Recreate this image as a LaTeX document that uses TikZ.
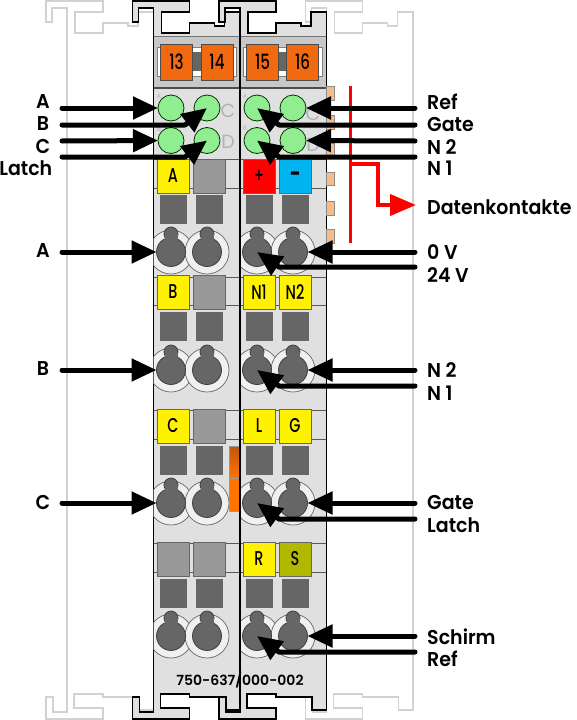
\documentclass[tikz,border=0pt]{standalone}
\usepackage{fontspec}
\setmainfont[BoldFont={Poppins SemiBold}]{Poppins}
\newfontfamily\narrowfont[FakeStretch=0.72]{Poppins Medium}
\newfontfamily\labelfont[FakeStretch=0.95]{Poppins SemiBold}
\usetikzlibrary{arrows.meta}

\definecolor{bodygrey}{HTML}{E0E0E0}
\definecolor{bandgrey}{HTML}{C8C8C8}
\definecolor{ghostgrey}{HTML}{D2D2D2}
\definecolor{ringgrey}{HTML}{F0F0F0}
\definecolor{boxgrey}{HTML}{666666}
\definecolor{markgrey}{HTML}{999999}
\definecolor{ledgreen}{HTML}{90EE90}
\definecolor{tagorange}{HTML}{F26A10}
\definecolor{pinpeach}{HTML}{F5BC8C}
\definecolor{wagoblue}{HTML}{00B4F0}
\definecolor{olivemark}{HTML}{B0B800}

\tikzset{
  sig/.style={line width=5pt, line cap=round, line join=round, -{Triangle[length=25pt,width=22pt]}},
  redsig/.style={red, line width=4pt, -{Triangle[length=26pt,width=21pt]}},
  led/.style={circle, draw=black!80!green, fill=ledgreen, line width=0.8pt, minimum size=26pt, inner sep=0pt, outer sep=0pt},
  keynode/.style={circle, minimum size=29pt, inner sep=0pt, outer sep=0pt},
  markbox/.style={draw=black!60, line width=0.6pt, minimum width=32pt, minimum height=34pt, inner sep=0pt,
    font=\fontsize{20}{20}\narrowfont},
  tagbox/.style={draw=black!70, fill=tagorange, line width=0.6pt, minimum width=32pt, minimum height=36pt, inner sep=0pt,
    font=\fontsize{21}{21}\narrowfont},
  sqbox/.style={draw=black!60, fill=boxgrey, line width=0.6pt, minimum width=26pt, minimum height=28pt, inner sep=0pt},
  siglabel/.style={inner sep=0pt, font=\fontsize{20}{20}\labelfont},
  faint/.style={inner sep=0pt, text=black!30},
  modulepath/.style={line width=1.3pt, line join=miter},
}

% Outline of one module, x measured from its left edge
\newcommand{\moduleoutline}[1]{
  ({#1},712) -- ({#1},8) -- ({#1-15},8) -- ({#1-15},22) -- ({#1-21},22) -- ({#1-21},1) -- ({#1+36},1)
  -- ({#1+36},12) -- ({#1+8},12) -- ({#1+8},33) -- ({#1+36},33) -- ({#1+36},23) -- ({#1+61},23) -- ({#1+61},26)
  -- ({#1+71},26) -- ({#1+71},12) -- ({#1+86.5},12) -- ({#1+86.5},710) -- ({#1+72},710) -- ({#1+72},697)
  -- ({#1+36},697) -- ({#1+36},694) -- ({#1+7},694) -- ({#1+7},708) -- ({#1+36},708) -- ({#1+36},719)
  -- ({#1-21},719) -- ({#1-21},697) -- ({#1-14},697) -- ({#1-14},712) -- cycle
}

\begin{document}
\begin{tikzpicture}[x=1pt, y=-1pt]
\useasboundingbox (0,0) rectangle (576,720);

% Neighbouring modules
\draw[ghostgrey, modulepath] \moduleoutline{67};
\draw[ghostgrey, modulepath] \moduleoutline{326.5};

% Both modules
\fill[bodygrey] \moduleoutline{153.5};
\draw[black, modulepath] \moduleoutline{153.5};
\fill[bodygrey] \moduleoutline{240};
\draw[black, modulepath] \moduleoutline{240};

% Band with the numbers
\fill[bandgrey] (154,36) rectangle (326,88);
\draw[black!55, line width=0.8pt] (154,36) -- (326,36);
\draw[black!70, line width=1.2pt] (154,88) -- (326,88);
\foreach \xa/\xb/\xc in {157/236/196.5, 243/322/282.5} {
  \draw[black!50, fill=white, line width=0.5pt] (\xa,47) rectangle (\xb,76);
  \fill[boxgrey] (\xc-5,52) rectangle (\xc+5,71);
}
\foreach \xt/\num in {176.5/13, 217/14, 262.5/15, 302.5/16}
  \node[tagbox] (tag\num) at (\xt,62) {\num};

% Lines across the rows
\foreach \ya in {159,188,277,305,410,439,543,572} {
  \draw[black!65, line width=0.7pt] (154,\ya) -- (239,\ya);
  \draw[black!65, line width=0.7pt] (241,\ya) -- (326,\ya);
}

% Round wire openings
\foreach \mx/\ka/\kb in {153.5/171/207, 240/257/293} {
  \begin{scope}
    \clip (\mx,100) rectangle (\mx+86.5,700);
    \foreach \yk in {252,370,503,636} {
      \draw[black!60, fill=ringgrey, line width=0.7pt] (\ka,\yk) circle (22);
      \draw[black!60, fill=ringgrey, line width=0.7pt] (\kb,\yk) circle (22);
    }
  \end{scope}
}
\foreach \xk/\col in {171/1, 207/2, 257/3, 293/4} {
  \foreach \yk/\row in {252/1, 370/2, 503/3, 636/4} {
    \draw[black!75, fill=boxgrey, line width=0.8pt] (\xk,\yk-18) circle (7);
    \draw[black!75, fill=boxgrey, line width=0.8pt] (\xk,\yk) circle (14.5);
    \fill[boxgrey] (\xk-6.5,\yk-18) rectangle (\xk+6.5,\yk-10);
    \node[keynode] (key\row\col) at (\xk,\yk) {};
  }
}

% Square openings
\foreach \xs/\col in {173/1, 209/2, 259/3, 295/4}
  \foreach \ys/\row in {209/1, 326/2, 460.5/3, 593.5/4}
    \node[sqbox] (sq\row\col) at (\xs,\ys) {};

% Markers
\foreach \xm/\ym/\mcol/\mtxt/\mname in {
  173/176/yellow/A/a, 209/176/markgrey//b, 259/176/red/+/c, 295/176/wagoblue/\bfseries –/d,
  173/292/yellow/B/e, 209/292/markgrey//f, 259/292/yellow/N1/g, 295/292/yellow/N2/h,
  173/426/yellow/C/i, 209/426/markgrey//j, 259/426/yellow/L/k, 295/426/yellow/G/l,
  173/559/markgrey//m, 209/559/markgrey//n, 259/559/yellow/R/o, 295/559/olivemark/S/p}
  \node[markbox, fill=\mcol] (mark\mname) at (\xm,\ym) {\mtxt};

% Orange strip
\fill[top color=black!20!tagorange, bottom color=orange!90!red, draw=black!40] (229,446) rectangle (239,478);
\fill[orange!90!red, draw=black!40] (229,478) rectangle (239,511);

% Module edges again
\draw[black, line width=1.3pt] (240,12) -- (240,710);

% Small letters beside the LEDs
\node[faint, font=\fontsize{19}{19}\selectfont] (lc) at (228,111) {C};
\node[faint, font=\fontsize{19}{19}\selectfont] (ld) at (228,142) {D};
\node[faint, font=\fontsize{19}{19}\selectfont] (rc) at (313,114) {C};
\node[faint, font=\fontsize{19}{19}\selectfont] (rd) at (313,145) {D};
\node[faint, font=\fontsize{6}{6}\selectfont] (sa) at (159,96) {A};
\node[faint, font=\fontsize{6}{6}\selectfont] (sb) at (159,129) {B};
\node[faint, font=\fontsize{6}{6}\selectfont] (ta) at (245,96) {A};
\node[faint, font=\fontsize{6}{6}\selectfont] (tb) at (245,128) {B};

% LEDs
\node[led] (ledA) at (171,108) {};
\node[led] (ledC) at (207,108) {};
\node[led] (ledB) at (171,140.5) {};
\node[led] (ledD) at (207,140.5) {};
\node[led] (ledRef) at (257,108) {};
\node[led] (ledGate) at (293,108) {};
\node[led] (ledN) at (257,140.5) {};
\node[led] (ledM) at (293,140.5) {};

% Contacts on the right edge
\foreach \yp/\hp in {86/14, 115/14, 143/12, 172/13, 201/14, 229/14}
  \draw[black!45, fill=pinpeach, line width=0.5pt] (326.5,\yp) rectangle (334.5,\yp+\hp);

% Red data path
\draw[red, line width=2.5pt] (350.5,86) -- (350.5,243);
\coordinate (busOut) at (350.5,164);
\coordinate (busEnd) at (416,205);
\draw[redsig] (busOut) -| (378,205) -- (busEnd);

% Free ends of the arrows
\foreach \yf/\nf in {108/a, 125/b, 141/c, 157/d, 252/e, 370/f, 503/g} 
  \coordinate (in\nf) at (62,\yf);
\foreach \yf/\nf in {108/a, 125/b, 141/c, 157/d, 252/e, 267/f, 370/g, 386/h, 503/i, 519/j, 636/k, 652/l} 
  \coordinate (out\nf) at (415,\yf);

% Arrows from the left
\draw[sig] (ina) -- (ledA);
\draw[sig] (inb) -- (185,125) -- (ledC.center);
\draw[sig] (inc) -- (ledB);
\draw[sig] (ind) -- (185,157) -- (ledD.center);
\draw[sig] (ine) -- (key11);
\draw[sig] (inf) -- (key21);
\draw[sig] (ing) -- (key31);

% Arrows from the right
\draw[sig] (outa) -- (ledGate);
\draw[sig] (outb) -- (279,125) -- (ledRef.center);
\draw[sig] (outc) -- (ledM);
\draw[sig] (outd) -- (279,157) -- (ledN.center);
\draw[sig] (oute) -- (key14);
\draw[sig] (outf) -- (279,267) -- (key13.center);
\draw[sig] (outg) -- (key24);
\draw[sig] (outh) -- (279,386) -- (key23.center);
\draw[sig] (outi) -- (key34);
\draw[sig] (outj) -- (279,519) -- (key33.center);
\draw[sig] (outk) -- (key44);
\draw[sig] (outl) -- (279,652) -- (key43.center);

% Labels
\node[siglabel] (labA) at (43,102) {A};
\node[siglabel] (labB) at (43,124) {B};
\node[siglabel] (labC) at (43,146) {C};
\node[siglabel, anchor=east] (labLatch) at (52.5,168) {Latch};
\node[siglabel] (labA2) at (43,251) {A};
\node[siglabel] (labB2) at (43,369) {B};
\node[siglabel] (labC2) at (43,502) {C};
\foreach \yl/\txt/\nl in {102/Ref/a, 125/Gate/b, 147/N 2/c, 168/N 1/d, 207/Datenkontakte/e, 252/0 V/f, 275/24 V/g,
  370/N 2/h, 393/N 1/i, 503/Gate/j, 525/Latch/k, 637/Schirm/l, 659/Ref/m}
  \node[siglabel, anchor=west] (lab\nl) at (427,\yl) {\txt};

% Order number
\node[inner sep=0pt, font=\fontsize{14}{14}\selectfont\bfseries] (ordernum) at (240,680) {750-637/000-002};

\end{tikzpicture}
\end{document}
